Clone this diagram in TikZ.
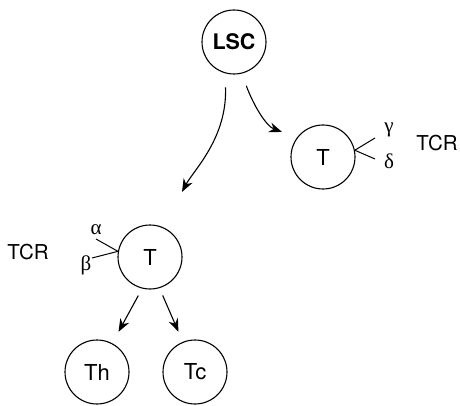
\documentclass[tikz,border=0pt]{standalone}
\usepackage{fontspec}
\setmainfont{TeX Gyre Heros}
\newfontfamily\grfont{Liberation Serif}
\usetikzlibrary{arrows.meta}
\begin{document}
\begin{tikzpicture}[x=1pt,y=1pt,
  cell/.style={circle,draw,line width=1.1pt,minimum size=64pt,inner sep=0pt,font=\fontsize{22}{22}\selectfont},
  arr/.style={line width=1.1pt,-{Stealth[length=13pt,width=10pt]}},
  tick/.style={line width=1pt},
  lab/.style={font=\fontsize{20.5}{20.5}\selectfont,inner sep=0pt},
  gr/.style={font=\grfont\fontsize{21}{21}\selectfont,inner sep=0pt}]
\useasboundingbox (0,0) rectangle (460,-406);
\node[cell,font=\fontsize{21.5}{21.5}\selectfont\bfseries] (lsc) at (234,-42) {LSC};
\node[cell] (tr) at (323,-157) {T};
\node[cell] (tl) at (150,-257) {T};
\node[cell] (th) at (97,-372) {Th};
\node[cell] (tc) at (195,-372) {Tc};
% right TCR
\node[gr] (g) at (389,-130) {γ};
\node[gr] (d) at (389,-161) {δ};
\node[lab] (tcrr) at (437,-143) {TCR};
\coordinate (ge) at (375,-138);
\coordinate (de) at (375,-159);
\draw[tick] (tr.12) -- (ge);
\draw[tick] (tr.12) -- (de);
% left TCR
\node[gr] (a) at (96,-230) {α};
\node[gr] (b) at (86,-265) {β};
\node[lab] (tcrl) at (28,-252) {TCR};
\coordinate (ae) at (96,-239);
\coordinate (be) at (92,-258);
\draw[tick] (tl.170) -- (ae);
\draw[tick] (tl.170) -- (be);
% arrows
\draw[arr,shorten <=14pt,shorten >=40pt] (lsc.-106) to[out=-88,in=62] (tl.66);
\draw[arr,shorten <=13pt,shorten >=16pt] (lsc.-76) to[out=-70,in=160] (tr.143);
\draw[arr,shorten <=8pt,shorten >=13pt] (tl.-104) -- (th.62);
\draw[arr,shorten <=8pt,shorten >=11pt] (tl.-73) -- (tc.112);
\end{tikzpicture}
\end{document}
